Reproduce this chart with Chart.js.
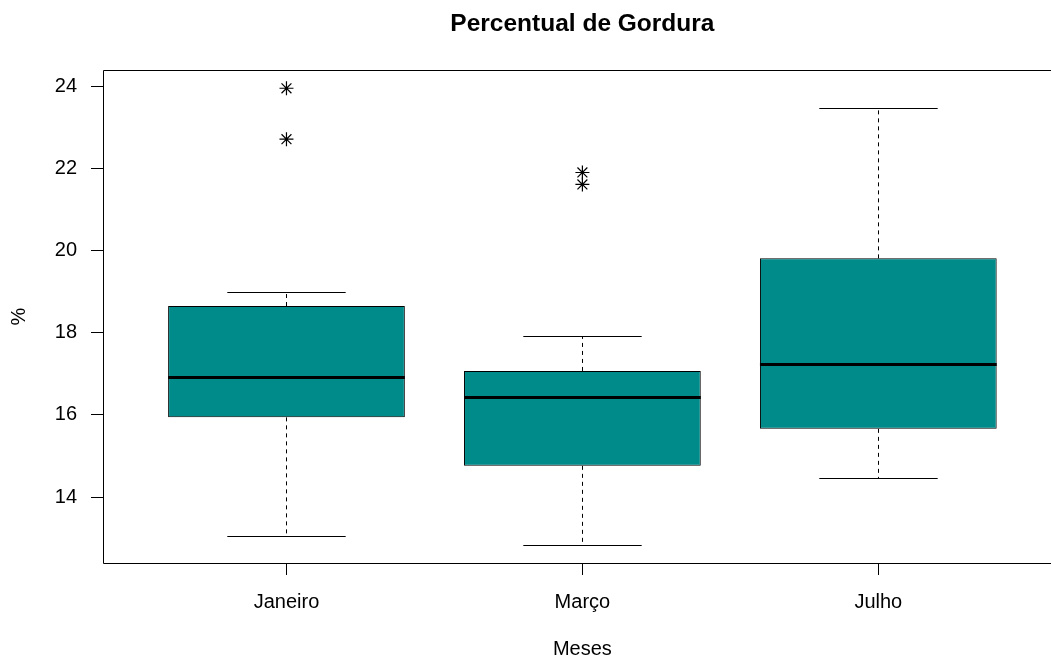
<!DOCTYPE html>
<html>
<head>
<meta charset="utf-8">
<title>Percentual de Gordura</title>
<script src="https://cdn.jsdelivr.net/npm/chart.js@4/dist/chart.umd.min.js"></script>
<style>
  html, body { margin: 0; padding: 0; overflow: hidden; background: #fff; }
  #wrap { position: relative; width: 1051px; height: 659px; overflow: hidden; }
  canvas { position: absolute; left: 0; top: 0; }
</style>
</head>
<body>
<div id="wrap"><canvas id="c" width="1070" height="659"></canvas></div>
<script>
// Five-number summaries per month (whisker ends, quartiles, median)
const categories  = ['Janeiro', 'Março', 'Julho'];
const whiskerLow  = [13.05, 12.84, 14.46];
const quartile1   = [15.94, 14.76, 15.66];
const medians     = [16.92, 16.43, 17.23];
const quartile3   = [18.65, 17.07, 19.81];
const whiskerHigh = [18.98, 17.92, 23.47];

// Points beyond the whiskers: month position (1-based) and value
const outlierGroup  = [1, 1, 2, 2];
const outlierValues = [23.95, 22.71, 21.90, 21.61];

const yTicks = [14, 16, 18, 20, 22, 24];

const FONT = 'Liberation Sans, Arial, Helvetica, sans-serif';
Chart.defaults.font.family = FONT;
Chart.defaults.color = '#000';

// Axis ranges in the style of base R graphics: 4% padding around the data
const n = categories.length;
const xMin = 0.5 - 0.04 * n;
const xMax = n + 0.5 + 0.04 * n;
const allValues = whiskerLow.concat(whiskerHigh, outlierValues);
const lo = Math.min(...allValues), hi = Math.max(...allValues);
const yMin = lo - 0.04 * (hi - lo);
const yMax = hi + 0.04 * (hi - lo);

// Whiskers, staples, medians and the frame around the plot region
const boxParts = {
  id: 'boxParts',
  afterDatasetsDraw(chart) {
    const { ctx, chartArea, scales: { x, y } } = chart;
    const bars = chart.getDatasetMeta(0).data;
    const al = v => Math.round(v) + 0.5;
    ctx.save();
    ctx.strokeStyle = '#000';
    ctx.lineCap = 'butt';
    categories.forEach((name, i) => {
      const bar = bars[i];
      const cx = al(x.getPixelForValue(i + 1));
      const half = bar.width / 2;
      const capHalf = bar.width / 4;
      const yQ1 = y.getPixelForValue(quartile1[i]);
      const yQ3 = y.getPixelForValue(quartile3[i]);
      const yLo = al(y.getPixelForValue(whiskerLow[i]));
      const yHi = al(y.getPixelForValue(whiskerHigh[i]));

      // dashed whiskers
      ctx.lineWidth = 1;
      ctx.setLineDash([4, 4]);
      ctx.beginPath();
      ctx.moveTo(cx, yQ3); ctx.lineTo(cx, yHi);
      ctx.moveTo(cx, yQ1); ctx.lineTo(cx, yLo);
      ctx.stroke();

      // staples
      ctx.setLineDash([]);
      ctx.beginPath();
      ctx.moveTo(cx - capHalf, yHi); ctx.lineTo(cx + capHalf, yHi);
      ctx.moveTo(cx - capHalf, yLo); ctx.lineTo(cx + capHalf, yLo);
      ctx.stroke();

      // median
      const yMed = Math.round(y.getPixelForValue(medians[i]));
      ctx.lineWidth = 3;
      ctx.beginPath();
      ctx.moveTo(bar.x - half, yMed + 0.5); ctx.lineTo(bar.x + half, yMed + 0.5);
      ctx.stroke();
    });

    // plot frame
    const l = al(chartArea.left), t = al(chartArea.top), b = al(chartArea.bottom), r = al(chartArea.right);
    ctx.lineWidth = 1;
    ctx.beginPath();
    ctx.moveTo(r, t); ctx.lineTo(l, t); ctx.lineTo(l, b); ctx.lineTo(r, b);
    ctx.stroke();
    ctx.restore();
  }
};

new Chart(document.getElementById('c'), {
  type: 'bar',
  data: {
    datasets: [
      {
        type: 'bar',
        data: categories.map((c, i) => ({ x: i + 1, y: [quartile1[i], quartile3[i]] })),
        backgroundColor: '#008B8B',
        borderColor: '#000',
        borderWidth: 1,
        borderSkipped: false,
        barPercentage: 0.8,
        categoryPercentage: 1
      },
      {
        type: 'scatter',
        data: outlierValues.map((v, i) => ({ x: outlierGroup[i], y: v })),
        pointStyle: 'star',
        pointRadius: 7,
        borderColor: '#000',
        backgroundColor: 'rgba(0,0,0,0)',
        borderWidth: 1.2
      }
    ]
  },
  options: {
    responsive: false,
    animation: false,
    events: [],
    layout: { padding: { left: 0, right: 8, top: 0, bottom: 0 } },
    plugins: {
      legend: { display: false },
      tooltip: { enabled: false },
      title: {
        display: true,
        fullSize: false,
        text: 'Percentual de Gordura',
        color: '#000',
        font: { family: FONT, size: 24.5, weight: 'bold', lineHeight: 1.2 },
        padding: { top: 10, bottom: 30.6 }
      }
    },
    scales: {
      x: {
        type: 'linear',
        min: xMin,
        max: xMax,
        offset: false,
        grid: { display: true, offset: false, drawOnChartArea: false, drawTicks: true,
                tickLength: 12, color: '#000', tickColor: '#000', lineWidth: 1 },
        border: { display: false },
        afterBuildTicks: s => { s.ticks = categories.map((c, i) => ({ value: i + 1 })); },
        ticks: {
          autoSkip: false, maxRotation: 0, padding: 15, color: '#000',
          font: { family: FONT, size: 20 },
          callback: v => categories[Math.round(v) - 1]
        },
        title: { display: true, text: 'Meses', color: '#000',
                 font: { family: FONT, size: 20, lineHeight: 1 }, padding: 0 },
        afterFit: s => { s.height = 96; }
      },
      y: {
        type: 'linear',
        min: yMin,
        max: yMax,
        grid: { display: true, drawOnChartArea: false, drawTicks: true,
                tickLength: 12, color: '#000', tickColor: '#000', lineWidth: 1 },
        border: { display: false },
        afterBuildTicks: s => { s.ticks = yTicks.map(v => ({ value: v })); },
        ticks: {
          padding: 14, color: '#000',
          font: { family: FONT, size: 20 },
          callback: v => String(v)
        },
        title: { display: true, text: '%', color: '#000',
                 font: { family: FONT, size: 20, lineHeight: 1.2 }, padding: { top: 7, bottom: 0 } },
        afterFit: s => { s.width = 103; }
      }
    }
  },
  plugins: [boxParts]
});
</script>
</body>
</html>
